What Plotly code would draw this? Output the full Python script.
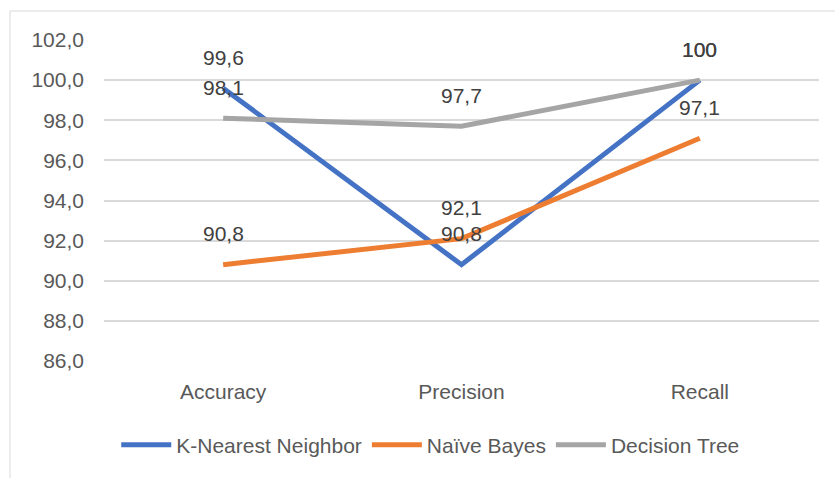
import plotly.graph_objects as go

categories = ["Accuracy", "Precision", "Recall"]
knn = [99.6, 90.8, 100]
naive_bayes = [90.8, 92.1, 97.1]
decision_tree = [98.1, 97.7, 100]
series_names = ["K-Nearest Neighbor", "Naïve Bayes", "Decision Tree"]
y_ticks = [86, 88, 90, 92, 94, 96, 98, 100, 102]

colors = ["#4472C4", "#ED7D31", "#A5A5A5"]
FONT = "Liberation Sans"
FS = 21

fig = go.Figure()
annotations = []
for name, vals, col in zip(series_names, [knn, naive_bayes, decision_tree], colors):
    fig.add_trace(go.Scatter(x=categories, y=vals, mode="lines", name=name,
                             line=dict(color=col, width=5), hoverinfo="skip"))
    for c, v in zip(categories, vals):
        txt = f"{v:.1f}".replace(".", ",") if v != int(v) else str(int(v))
        annotations.append(dict(x=c, y=v, text=txt, showarrow=False, yshift=31,
                                font=dict(family=FONT, size=FS, color="#404040")))

fig.update_layout(
    width=835, height=478,
    margin=dict(l=104, r=16, t=40, b=117),
    paper_bgcolor="white", plot_bgcolor="white",
    separators=",.",
    font=dict(family=FONT, size=FS, color="#595959"),
    annotations=annotations,
    showlegend=True,
    legend=dict(orientation="h", x=0.457, xanchor="center", y=-0.262, yanchor="middle",
                font=dict(family=FONT, size=FS, color="#595959"),
                itemwidth=50, traceorder="normal"),
    xaxis=dict(range=[-0.5, 2.5], showgrid=False, showline=False, zeroline=False, ticks="",
               ticklabelstandoff=16, tickfont=dict(color="#595959", size=FS)),
    yaxis=dict(range=[86, 102], tickvals=y_ticks, tickformat=".1f",
               showgrid=True, gridcolor="#D9D9D9", gridwidth=1.5, zeroline=False,
               showline=False, ticks="", ticklabelstandoff=19,
               tickfont=dict(color="#595959", size=FS)),
    shapes=[dict(type="rect", xref="paper", yref="paper",
                 x0=(10 - 104) / 715, x1=1.2, y0=-1.0, y1=(361 - 11) / 321,
                 line=dict(color="#D9D9D9", width=1), fillcolor="rgba(0,0,0,0)", layer="below")],
)
fig.write_html("out.html")
